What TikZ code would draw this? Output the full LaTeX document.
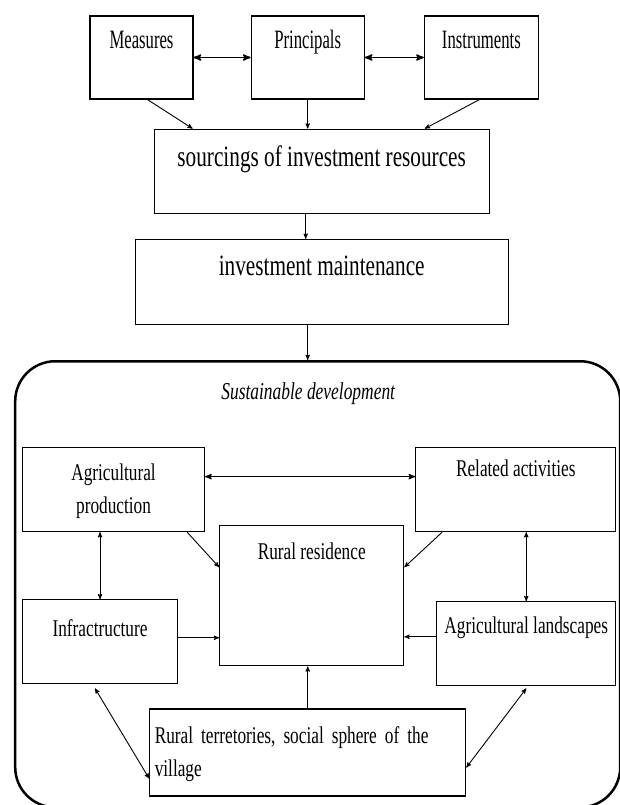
\documentclass[tikz,border=0pt]{standalone}
\usepackage{fontspec}
\setmainfont[FakeStretch=0.72]{Liberation Serif}
\newfontfamily\narrowserif[FakeStretch=0.63]{Liberation Serif}
\usetikzlibrary{arrows, positioning}
\tikzset{
        >=stealth', % arrow heads as in the scan
        box/.style={draw, line width=1.2pt, inner sep=0pt}, % plain text boxes, text at the top
        topfont/.style={font=\narrowserif\fontsize{26.5}{32}\selectfont}, % upper row
        midfont/.style={font=\fontsize{29.5}{36}\selectfont}, % the two wide boxes
        lowfont/.style={font=\fontsize{24}{33}\selectfont}, % boxes inside the frame
        link/.style={line width=0.9pt}, % thin connectors
        pair/.style={<->, line width=1.6pt}, % bold two-way connectors
    }
\begin{document}
\begin{tikzpicture}
    \useasboundingbox (0,0) rectangle (620pt,-805pt);
    % upper part
    \node[box, topfont, minimum width=103pt, text height=33pt, text depth=50pt] (measures) at (141.5pt,-57.5pt) {Measures};
    \node[box, topfont, minimum width=113pt, text height=33pt, text depth=50pt, right=57pt of measures] (principals) {Principals};
    \node[box, topfont, minimum width=114pt, text height=33pt, text depth=50pt, right=59pt of principals] (instruments) {Instruments};
    \node[box, midfont, minimum width=335pt, text height=37pt, text depth=47pt, below=29pt of principals, xshift=14pt] (sourcing) {sourcings of investment resources};
    \node[box, midfont, minimum width=373pt, text height=36pt, text depth=49pt, below=25pt of sourcing] (maintenance) {investment maintenance};
    % frame
    \node[draw, line width=2.5pt, rounded corners=40pt, minimum width=605pt, minimum height=446pt, below=35pt of maintenance, xshift=-4pt] (frame) {};
    \node[anchor=base, font=\fontsize{24.2}{30}\selectfont\itshape] (sustain) at ([xshift=-9.5pt, yshift=-39pt]frame.north) {Sustainable development};
    \node[box, lowfont, text width=182pt, align=center, text height=33pt, text depth=51pt, below right=87pt and 8pt of frame.north west] (agri) {Agricultural\\production};
    \node[box, lowfont, minimum width=200pt, text height=29pt, text depth=55pt, right=210pt of agri] (related) {Related activities};
    \node[box, lowfont, minimum width=184pt, text height=34pt, text depth=106pt, right=14pt of agri.south east, anchor=north west, yshift=7pt] (residence) {Rural residence};
    \node[box, lowfont, minimum width=155pt, text height=37pt, text depth=47pt, below=67pt of agri.south west, anchor=north west] (infra) {Infractructure};
    \node[box, lowfont, minimum width=179pt, text height=32pt, text depth=52pt, below=69pt of related.south east, anchor=north east] (landscapes) {Agricultural landscapes};
    \node[box, lowfont, text width=306pt, inner xsep=5pt, align=left, text height=34pt, text depth=53pt, below=42pt of residence, xshift=-4pt] (villages) {Rural terretories, social sphere of the\\village};
    % connectors
    \draw[pair] (measures) -- (principals);
    \draw[pair] (principals) -- (instruments);
    \draw[->, link] ([xshift=6pt]measures.south) -- ([xshift=39pt]sourcing.north west);
    \draw[->, link] (principals) -- (principals |- sourcing.north);
    \draw[->, link] ([xshift=-2pt]instruments.south) -- ([xshift=-65pt]sourcing.north east);
    \draw[->, link] ([xshift=-16pt]sourcing.south) -- ([xshift=-16pt]sourcing.south |- maintenance.north);
    \draw[->, link] ([xshift=-14pt]maintenance.south) -- ([xshift=-14pt]maintenance.south |- frame.north);
    \draw[pair, line width=1.3pt] ([yshift=13pt]agri.east) -- ([yshift=13pt]agri.east -| related.west);
    \draw[<->, link] (infra.north |- agri.south) -- (infra.north);
    \draw[<->, link] (landscapes.north |- related.south) -- (landscapes.north);
    \draw[->, link] ([xshift=-18pt]agri.south east) -- ([yshift=-42pt]residence.north west);
    \draw[->, link] ([xshift=27pt]related.south west) -- ([yshift=-42pt]residence.north east);
    \draw[->, link] ([yshift=4pt]infra.east) -- ([yshift=4pt]infra.east -| residence.west);
    \draw[->, link] ([yshift=7pt]landscapes.west) -- ([yshift=7pt]landscapes.west -| residence.east);
    \draw[->, link] (villages.north) -- (villages.north |- residence.south);
    \draw[<->, link] ([xshift=-5pt, yshift=-4pt]infra.south) -- ([yshift=-26pt]villages.west);
    \draw[<->, link] ([yshift=-2pt]landscapes.south) -- ([yshift=-15pt]villages.east);
\end{tikzpicture}
\end{document}
